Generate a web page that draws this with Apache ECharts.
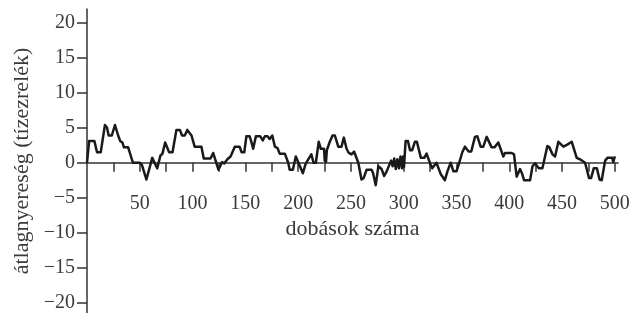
<!DOCTYPE html>
<html>
<head>
<meta charset="utf-8">
<script src="https://cdn.jsdelivr.net/npm/echarts@6/dist/echarts.min.js"></script>
<style>
  html, body { margin: 0; padding: 0; background: #fff; }
  #chart { width: 644px; height: 313px; }
</style>
</head>
<body>
<div id="chart"></div>
<script>
// game index (number of throws) and running average gain
var throwNo = [0, 2, 7, 9.5, 13, 17, 19, 20.5, 23.5, 26.5, 29.5, 31.5, 33.5, 35, 39, 43.5, 50, 52, 56.3, 61.8,
  63.5, 66.5, 69.5, 71.5, 74, 77.8, 81, 84.7, 88, 90, 92.6, 95, 96.7, 99, 102, 108.4, 110.6, 117, 119.5, 121,
  124.5, 128, 130, 133, 136, 140, 144.5, 146.5, 149, 151, 154, 155.5, 157.4, 160, 164, 166.5, 168.5, 171, 173, 175.5,
  178, 180.5, 182.5, 187.4, 190.6, 192, 195, 197.8, 204.5, 207, 210, 212.5, 214.6, 216.8, 219.5, 221.5, 224.5, 225.2, 225.8, 226.4,
  227.2, 230, 232.6, 234.8, 238, 241.1, 243.3, 245.9, 248, 250.6, 253, 257, 260, 262, 264.9, 269.6, 271, 273.5, 276, 279,
  281.5, 284, 288, 289.5, 291, 292.5, 294, 295.5, 297, 298.5, 299.5, 300.3, 301.8, 304, 306, 308, 310.6, 312.5, 316.3, 319.5,
  321.7, 325, 327, 331, 335, 339, 341.5, 344.5, 347, 350, 352, 355.5, 358, 359.6, 361.5, 364, 367.5, 369.7, 372.9, 375.4,
  378.6, 380.2, 383.3, 386, 389.6, 391.2, 394.4, 396, 402.3, 404.5, 407, 408.6, 410.2, 412, 414, 419.7, 422, 424.4, 426, 428,
  431.4, 436.1, 438, 441, 443.4, 446.5, 448.1, 451.3, 455, 459.2, 463.9, 468, 471.8, 475.6, 477.5, 480, 483, 485.5, 487.6, 490.8,
  493, 497.5, 498.5, 500];
var avgGain = [0, 3.1, 3.1, 1.5, 1.5, 5.4, 5.0, 3.9, 3.9, 5.4, 3.9, 3.1, 2.9, 2.2, 2.2, 0, 0, -0.3, -2.4, 0.7,
  0.7, -0.8, 1.0, 1.3, 2.9, 1.5, 1.5, 4.7, 4.7, 3.9, 3.9, 4.7, 4.7, 3.9, 2.3, 2.3, 0.6, 0.6, 1.4, 1.4,
  -1.0, 0.1, -0.1, 0.5, 0.9, 2.3, 2.3, 1.5, 1.5, 3.8, 3.8, 3.1, 2.0, 3.8, 3.8, 3.2, 3.8, 3.8, 3.4, 3.9,
  2.3, 2.1, 1.3, 1.3, 0, -1.0, -1.0, 0.9, -1.5, -0.2, 0.6, 1.2, 0, 0, 3.0, 2.0, 2.0, 0.3, 1.6, 0.1,
  1.8, 3.0, 3.9, 3.9, 2.3, 2.3, 3.6, 2.0, 1.4, 1.2, 1.6, 0, -2.4, -2.2, -1.0, -1.0, -1.5, -3.2, -0.5, -0.9,
  -1.9, -1.2, 0.3, -0.5, 0.6, -0.9, 0.5, -0.8, 0.9, -0.8, 0.9, -0.6, 3.1, 3.1, 1.8, 1.8, 3.0, 3.0, 0.7, 0.7,
  1.3, -0.1, -0.8, 0, -1.6, -2.5, -1.2, 0, -1.2, -1.2, -0.3, 1.5, 2.3, 2.3, 1.6, 1.6, 3.7, 3.8, 2.3, 2.3,
  3.7, 3.8, 2.2, 2.2, 2.9, 3.0, 0.9, 1.4, 1.4, 1.2, -2.0, -2.2, -0.9, -1.5, -2.5, -2.5, -0.5, -0.1, -0.1, -0.8,
  -0.8, 2.4, 2.2, 1.2, 0.9, 3.0, 3.1, 2.3, 2.6, 3.0, 0.7, 0.4, 0, -2.2, -2.2, -0.8, -0.8, -2.4, -2.5, 0.3,
  0.7, 0.7, 0.1, 0.9];
var xTicks = [25, 50, 75, 100, 125, 150, 175, 200, 225, 250, 275, 300, 325, 350, 375, 400, 425, 450, 475, 500];
var xLabels = [50, 100, 150, 200, 250, 300, 350, 400, 450, 500];
var yTicks = [-20, -15, -10, -5, 0, 5, 10, 15, 20];

var points = throwNo.map(function (x, i) { return [x, avgGain[i]]; });

var font = "'Liberation Serif', 'DejaVu Serif', serif";
var ink = '#3a3a3a';

var chart = echarts.init(document.getElementById('chart'));
chart.setOption({
  animation: false,
  backgroundColor: '#fff',
  grid: { left: 87, right: 26, top: 9, bottom: 0, containLabel: false, outerBoundsMode: 'none' },
  xAxis: {
    type: 'value',
    min: 0,
    max: 503,
    offset: -150.25, // lift the axis up to the zero line
    name: 'dobások száma',
    nameLocation: 'middle',
    nameGap: 50,
    nameTextStyle: { fontFamily: font, fontSize: 22, color: ink },
    axisLine: { onZero: false, lineStyle: { color: '#333', width: 1.5 } },
    axisTick: { show: true, customValues: xTicks, length: 9, lineStyle: { color: '#333', width: 1.5 } },
    axisLabel: { customValues: xLabels, margin: 31, fontFamily: font, fontSize: 20, color: ink },
    splitLine: { show: false }
  },
  yAxis: {
    type: 'value',
    min: -21.5,
    max: 22,
    name: 'átlagnyereség (tízezrelék)',
    nameLocation: 'middle',
    nameGap: 48,
    nameTextStyle: { fontFamily: font, fontSize: 22, color: ink },
    axisLine: { show: true, lineStyle: { color: '#333', width: 1.5 } },
    axisTick: { show: true, customValues: yTicks, length: 10, lineStyle: { color: '#333', width: 1.5 } },
    axisLabel: {
      customValues: yTicks,
      margin: 12,
      fontFamily: font,
      fontSize: 20,
      color: ink,
      formatter: function (v) { return String(v).replace('-', '\u2212'); }
    },
    splitLine: { show: false }
  },
  series: [{
    type: 'line',
    data: points,
    showSymbol: false,
    lineStyle: { color: '#1a1a1a', width: 2.5, join: 'round' }
  }]
});
</script>
</body>
</html>
